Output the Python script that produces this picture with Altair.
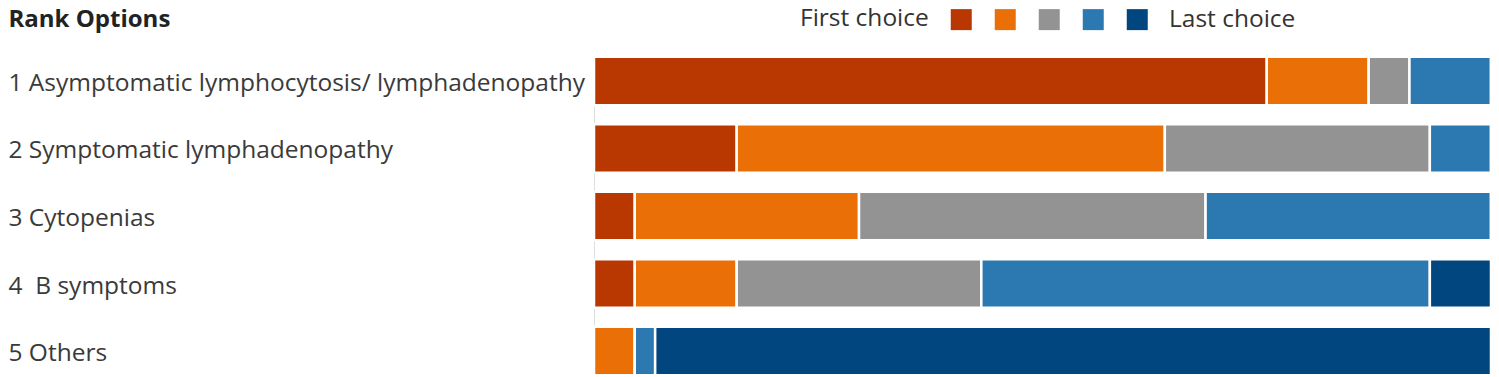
import altair as alt
import pandas as pd

categories = [
    "1 Asymptomatic lymphocytosis/ lymphadenopathy",
    "2 Symptomatic lymphadenopathy",
    "3 Cytopenias",
    "4\u00a0 B symptoms",
    "5 Others",
]
ranks = [1, 2, 3, 4, 5]
rank1 = [33, 7, 2, 2, 0]
rank2 = [5, 21, 11, 5, 2]
rank3 = [2, 13, 17, 12, 0]
rank4 = [4, 3, 14, 22, 1]
rank5 = [0, 0, 0, 3, 41]
colors = ["#B93700", "#EA6F06", "#939393", "#2C78B0", "#024680"]

rows = []
for r, vals in zip(ranks, [rank1, rank2, rank3, rank4, rank5]):
    for c, v in zip(categories, vals):
        rows.append({"option": c, "rank": r, "count": v})
df = pd.DataFrame(rows)

FONT = "Open Sans"

chart = alt.Chart(df).mark_bar(stroke="white", strokeWidth=2.5).encode(
    y=alt.Y(
        "option:N",
        sort=categories,
        scale=alt.Scale(paddingInner=0.2815, paddingOuter=0),
        axis=alt.Axis(
            title="Rank Options",
            titleAngle=0,
            titleAlign="left",
            titleBaseline="alphabetic",
            titleX=-586,
            titleY=-30.25,
            titleFontWeight="bold",
            titleFontSize=24,
            titleColor="#222222",
            titleFont=FONT,
            labelAlign="left",
            labelPadding=586,
            labelOffset=3,
            labelFontSize=24.5,
            labelColor="#3a3a3a",
            labelFont=FONT,
            labelLimit=0,
            ticks=False,
            tickSize=0,
            domain=False,
            grid=False,
        ),
    ),
    x=alt.X("count:Q", stack="normalize", axis=None, scale=alt.Scale(nice=False)),
    color=alt.Color(
        "rank:O",
        scale=alt.Scale(domain=ranks, range=colors),
        legend=alt.Legend(
            orient="none",
            legendX=206,
            legendY=-49.5,
            direction="horizontal",
            title="First choice",
            titleOrient="left",
            titleFontSize=24.5,
            titleFontWeight="normal",
            titleColor="#333333",
            titleFont=FONT,
            titlePadding=20,
            symbolType="square",
            symbolSize=441,
            symbolStrokeWidth=0,
            symbolOpacity=1,
            labelExpr="datum.value == 5 ? 'Last choice' : ''",
            labelFontSize=24.5,
            labelFont=FONT,
            labelColor="#333333",
            labelOffset=19.5,
            columnPadding=0,
        ),
    ),
    order=alt.Order("rank:O", sort="ascending"),
).properties(
    width=897,
    height=318.5,
    autosize=alt.AutoSizeParams(type="none"),
    padding={"left": 586, "top": 48.75, "right": 0, "bottom": 0},
).configure_view(stroke=None).configure(font=FONT)

chart.save("out.html", embed_options={"renderer": "svg", "actions": False})
